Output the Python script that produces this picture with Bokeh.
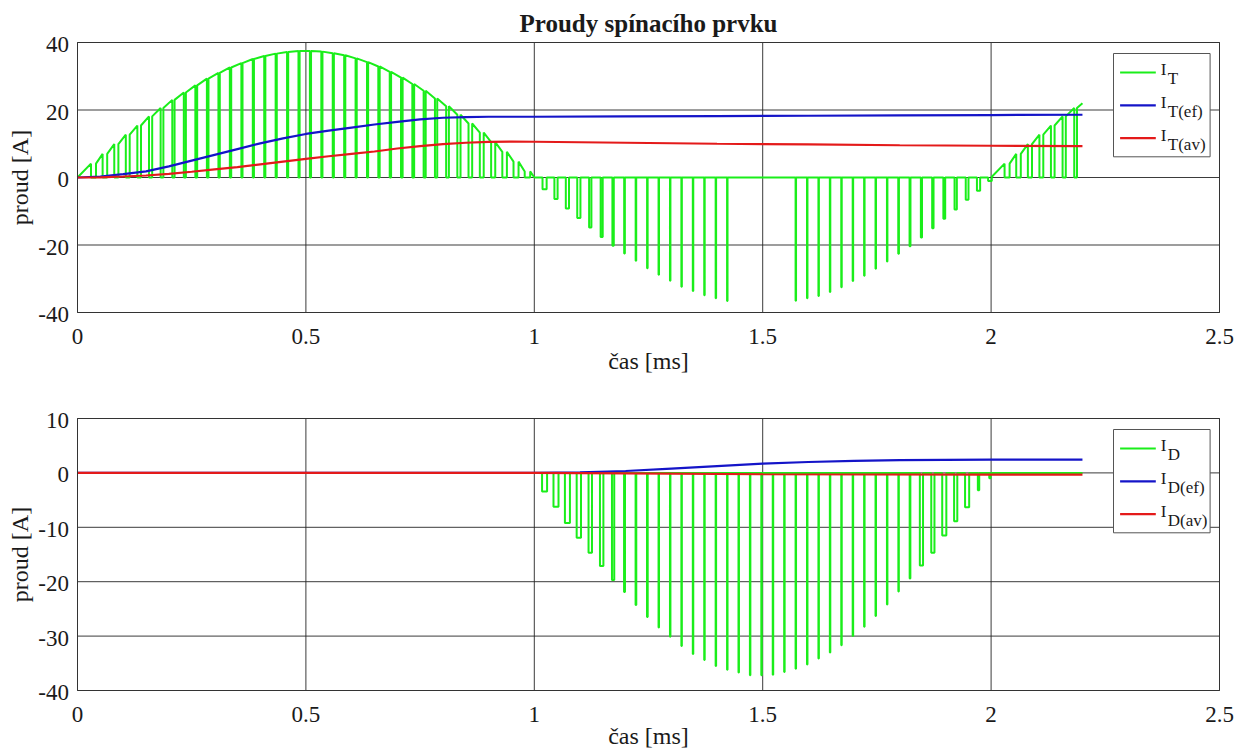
import math
from bokeh.plotting import figure
from bokeh.layouts import column
from bokeh.models import Label, BoxAnnotation, Range1d
from bokeh.embed import file_html
from bokeh.resources import INLINE

# ---------------- data ----------------
x_ticks = [0, 0.5, 1, 1.5, 2, 2.5]
x_tick_labels = ["0", "0.5", "1", "1.5", "2", "2.5"]
top_y_ticks = [-40, -20, 0, 20, 40]
top_y_tick_labels = ["-40", "-20", "0", "20", "40"]
bot_y_ticks = [-40, -30, -20, -10, 0, 10]
bot_y_tick_labels = ["-40", "-30", "-20", "-10", "0", "10"]

pwm_period = 0.025  # ms, switching period

# I_T, first positive half-wave: current level at each off-notch [A], notch width [us]
it_pos1_first = 0.035
it_pos1_level = [4.1, 7.0, 9.9, 12.7, 15.4, 18.1, 20.6, 23.0, 25.2, 27.3,
                 29.3, 31.0, 32.6, 33.9, 35.1, 36.0, 36.7, 37.2, 37.5, 37.5,
                 37.3, 36.8, 36.2, 35.3, 34.2, 32.9, 31.3, 29.6, 27.7, 25.7,
                 23.4, 21.1, 18.6, 16.0, 13.3, 10.5, 7.6, 4.7, 1.8]
it_pos1_notch_us = [11, 10, 9, 8.5, 8, 7, 6, 5, 4.5, 4,
                    3.5, 3, 3, 2.5, 2.5, 2.5, 2.5, 2.5, 2.5, 2.5,
                    2.5, 2.5, 2.5, 2.5, 2.5, 3, 3, 3.5, 4, 4.5,
                    5, 6, 7, 8, 8.5, 9, 10, 11, 12]

# I_T, negative half-wave: pulse depth [A] (0 = no pulse), pulse width [us]
it_neg_first = 1.0225
it_neg_level = [-3.5, -6.4, -9.2, -12.0, -14.8, -17.6, -20.2, -22.5, -24.7, -26.9,
                -28.8, -30.6, -32.4, -33.6, -34.9, -35.8, -36.6,
                0, 0, 0, 0, 0,
                -36.5, -35.8, -35.1, -33.9, -32.5, -30.7, -29.1, -27.0, -24.9, -22.6,
                -20.4, -17.8, -15.0, -12.2, -9.5, -6.6, -3.9, -1.0]
it_neg_pulse_us = [9, 7, 7, 7, 5, 4.5, 3, 1.5, 1.2, 1.2,
                   1, 1, 1, 1, 1, 1, 1,
                   0, 0, 0, 0, 0,
                   1, 1, 1, 1, 1, 1, 1, 1, 1, 1.5,
                   2, 2.5, 3, 4, 5, 6, 7, 8]

# I_T, second positive half-wave
it_pos2_first = 2.035
it_pos2_level = [4.1, 7.0, 9.9, 12.7, 15.4, 18.1, 20.6]
it_pos2_notch_us = [11, 10, 9, 8.5, 8, 7, 6]
it_end_time = 2.2
it_end_level = 22.0

# I_T(ef) and I_T(av)
it_ef_t = [0, 0.05, 0.1, 0.15, 0.2, 0.25, 0.3, 0.35, 0.4, 0.45, 0.5, 0.55, 0.6, 0.65,
           0.7, 0.75, 0.8, 0.85, 0.9, 1.0, 1.2, 1.4, 1.6, 1.8, 2.0, 2.2]
it_ef = [0, 0.3, 1.0, 1.8, 3.3, 5.0, 6.7, 8.4, 10.1, 11.6, 12.9, 13.9, 14.8, 15.7,
         16.5, 17.2, 17.7, 17.9, 18.0, 18.0, 18.1, 18.2, 18.3, 18.4, 18.5, 18.6]
it_av_t = [0, 0.05, 0.1, 0.15, 0.2, 0.25, 0.3, 0.35, 0.4, 0.45, 0.5, 0.55, 0.6, 0.65,
           0.7, 0.75, 0.8, 0.85, 0.9, 0.95, 1.0, 1.2, 1.4, 1.6, 1.8, 2.0, 2.2]
it_av = [0, 0.05, 0.3, 0.6, 1.1, 1.7, 2.4, 3.1, 3.9, 4.7, 5.5, 6.3, 7.0, 7.7,
         8.6, 9.3, 9.9, 10.3, 10.55, 10.65, 10.6, 10.3, 10.0, 9.8, 9.55, 9.4, 9.3]

# I_D pulses (negative half-wave only)
id_first = 1.0225
id_level = [-3.4, -6.2, -9.2, -11.9, -14.7, -17.1, -19.7, -21.9, -24.3, -26.5,
            -28.4, -30.1, -31.8, -33.3, -34.4, -35.5, -36.2, -36.7, -37.2, -37.2,
            -37.1, -36.6, -36.0, -35.2, -34.1, -33.0, -31.7, -30.0, -28.3, -26.3,
            -24.2, -21.8, -19.4, -17.0, -14.7, -11.5, -8.9, -6.3, -3.2, -1.0]
id_pulse_us = [11, 11, 11, 9.5, 7.5, 7.5, 5, 2, 1.5, 1.5,
               1, 1, 1, 1, 1, 1, 1, 1, 1, 1,
               1, 1, 1, 1, 1, 1, 1, 1, 1, 1,
               1, 1, 1.5, 7, 7, 9, 7, 9, 3, 3]
id_end_time = 2.2

# I_D(ef) and I_D(av)
id_ef_t = [0, 1.0, 1.1, 1.2, 1.3, 1.4, 1.5, 1.6, 1.7, 1.8, 1.9, 2.0, 2.2]
id_ef = [0, 0, 0.1, 0.35, 0.8, 1.25, 1.7, 2.0, 2.2, 2.35, 2.4, 2.45, 2.45]
id_av_t = [0, 1.0, 1.2, 1.5, 2.0, 2.2]
id_av = [0, 0, -0.1, -0.25, -0.3, -0.3]

# ---------------- layout & styling ----------------
FONT = "Liberation Serif"
TXT = "#1a1a1a"
GREEN = "#1aee1a"
BLUE = "#1414c8"
RED = "#e41a1a"
GRID = "#262626"
FIG_W = 1235
BOX_LEFT = 77          # px, left edge of the axes box
BOX_W = 1142           # px, width of the axes box
X_LIM = (0, 2.5)
SX = BOX_W / (X_LIM[1] - X_LIM[0])
BASE_SHIFT = 0.36      # em, correction between wanted baseline and label anchor


def notch_wave(first, levels, widths_us):
    """positive half-wave: current rides on the envelope and drops to 0 in short notches"""
    xs, ys = [], []
    for k, (lv, w) in enumerate(zip(levels, widths_us)):
        tc = first + k * pwm_period
        h = w / 2000.0
        xs += [tc - h, tc - h, tc + h, tc + h]
        ys += [lv, 0, 0, lv]
    return xs, ys


def pulse_wave(first, levels, widths_us):
    """current sits at 0 and dips to the level during short pulses"""
    xs, ys = [], []
    for k, (lv, w) in enumerate(zip(levels, widths_us)):
        if lv == 0 or w == 0:
            continue
        tc = first + k * pwm_period
        h = w / 2000.0
        xs += [tc - h, tc - h, tc + h, tc + h]
        ys += [0, lv, lv, 0]
    return xs, ys


# I_T waveform
gx, gy = [0.0], [0.0]
a, b = notch_wave(it_pos1_first, it_pos1_level, it_pos1_notch_us)
gx += a; gy += b
gx += [1.0]; gy += [0.0]
a, b = pulse_wave(it_neg_first, it_neg_level, it_neg_pulse_us)
gx += a; gy += b
gx += [2.0]; gy += [0.0]
a, b = notch_wave(it_pos2_first, it_pos2_level, it_pos2_notch_us)
gx += a; gy += b
gx += [it_end_time]; gy += [it_end_level]

# I_D waveform
dx, dy = [0.0, 1.0], [0.0, 0.0]
a, b = pulse_wave(id_first, id_level, id_pulse_us)
dx += a; dy += b
dx += [id_end_time]; dy += [0.0]


class Panel:
    """one figure whose frame fills the canvas; the axes box is drawn inside it"""

    def __init__(self, fig_h, box_top, box_h, ylim):
        self.box_top, self.box_h, self.ylim = box_top, box_h, ylim
        self.sy = box_h / (ylim[1] - ylim[0])
        xr = Range1d(self.X(0), self.X(FIG_W))
        yr = Range1d(self.Y(fig_h), self.Y(0))
        self.p = figure(width=FIG_W, height=fig_h, x_range=xr, y_range=yr,
                        output_backend="svg", toolbar_location=None,
                        min_border=0, min_border_left=0, min_border_right=0,
                        min_border_top=0, min_border_bottom=0)
        p = self.p
        p.xaxis.visible = False
        p.yaxis.visible = False
        p.xgrid.visible = False
        p.ygrid.visible = False
        p.outline_line_color = None
        p.background_fill_color = "white"
        p.border_fill_color = "white"

    def X(self, px):
        return X_LIM[0] + (px - BOX_LEFT) / SX

    def Y(self, py):
        return self.ylim[1] - (py - self.box_top) / self.sy

    def text_px(self, px, base_py, s, size_px, align="center", bold=False):
        """horizontal text with its baseline at canvas row base_py"""
        py = base_py - BASE_SHIFT * size_px
        self.p.add_layout(Label(x=self.X(px), y=self.Y(py), text=s, text_font=FONT,
                                text_font_size=f"{size_px}px", text_color=TXT,
                                text_align=align, text_baseline="alphabetic",
                                text_font_style="bold" if bold else "normal"))

    def vtext_px(self, base_px, center_py, s, size_px):
        """text rotated 90 deg, baseline at canvas column base_px"""
        px = base_px - BASE_SHIFT * size_px
        self.p.add_layout(Label(x=self.X(px), y=self.Y(center_py), text=s, text_font=FONT,
                                text_font_size=f"{size_px}px", text_color=TXT,
                                text_align="center", text_baseline="alphabetic",
                                angle=math.pi / 2))

    def row(self, value):
        """canvas row of a y data value"""
        return self.box_top + (self.ylim[1] - value) * self.sy

    def col(self, value):
        return BOX_LEFT + (value - X_LIM[0]) * SX

    def axes(self, yticks, ylabels, xlabel_gap):
        p = self.p
        y0, y1 = self.ylim
        p.segment(x0=x_ticks, y0=[y0] * len(x_ticks), x1=x_ticks, y1=[y1] * len(x_ticks),
                  line_color=GRID, line_width=1, line_alpha=0.9)
        p.segment(x0=[X_LIM[0]] * len(yticks), y0=yticks, x1=[X_LIM[1]] * len(yticks), y1=yticks,
                  line_color=GRID, line_width=1, line_alpha=0.9)
        p.add_layout(BoxAnnotation(left=X_LIM[0], right=X_LIM[1], bottom=y0, top=y1,
                                   fill_alpha=0, line_color="#333333", line_width=1, line_alpha=1))
        bottom_px = self.box_top + self.box_h
        for t, s in zip(x_ticks, x_tick_labels):
            self.text_px(self.col(t), bottom_px + 32, s, 23, "center")
        for t, s in zip(yticks, ylabels):
            self.text_px(68.5, self.row(t) + 10.3, s, 23, "right")
        self.text_px(BOX_LEFT + BOX_W / 2, bottom_px + xlabel_gap, "čas [ms]", 24, "center")
        self.vtext_px(28.5, self.box_top + self.box_h / 2, "proud [A]", 24)

    def legend(self, base, subs):
        def LX(px):
            return self.X(BOX_LEFT + px)

        def LY(py):
            return self.Y(self.box_top + py)

        self.p.add_layout(BoxAnnotation(left=LX(1036), right=LX(1132.6), top=LY(11), bottom=LY(114.3),
                                        fill_color="white", fill_alpha=1.0,
                                        line_color="#555555", line_width=1, line_alpha=1.0))
        for i, (sub, c) in enumerate(zip(subs, [GREEN, BLUE, RED])):
            ly = 30 + 32.8 * i
            self.p.add_layout(BoxAnnotation(left=LX(1042.6), right=LX(1078.3),
                                            top=LY(ly - 1.1), bottom=LY(ly + 1.1),
                                            fill_color=c, fill_alpha=1.0, line_alpha=0))
            self.text_px(BOX_LEFT + 1083.3, self.box_top + ly + 3.4, base, 17, "left")
            self.text_px(BOX_LEFT + 1090.3, self.box_top + ly + 12.4, sub, 17, "left")


# ---------------- top panel ----------------
top = Panel(fig_h=380, box_top=42, box_h=270, ylim=(-40, 40))
top.axes(top_y_ticks, top_y_tick_labels, xlabel_gap=57)
top.p.line(gx, gy, line_color=GREEN, line_width=2)
top.p.line(it_ef_t, it_ef, line_color=BLUE, line_width=2.2)
top.p.line(it_av_t, it_av, line_color=RED, line_width=2.2)
top.legend("I", ["T", "T(ef)", "T(av)"])
top.text_px(BOX_LEFT + BOX_W / 2, 31.7, "Proudy spínacího prvku", 25, "center", bold=True)

# ---------------- bottom panel ----------------
bot = Panel(fig_h=371, box_top=38, box_h=272, ylim=(-40, 10))
bot.axes(bot_y_ticks, bot_y_tick_labels, xlabel_gap=54)
bot.p.line(dx, dy, line_color=GREEN, line_width=2)
bot.p.line(id_ef_t, id_ef, line_color=BLUE, line_width=2.2)
bot.p.line(id_av_t, id_av, line_color=RED, line_width=2.2)
bot.legend("I", ["D", "D(ef)", "D(av)"])

layout = column(top.p, bot.p)
open("out.html", "w").write(file_html(layout, INLINE))
